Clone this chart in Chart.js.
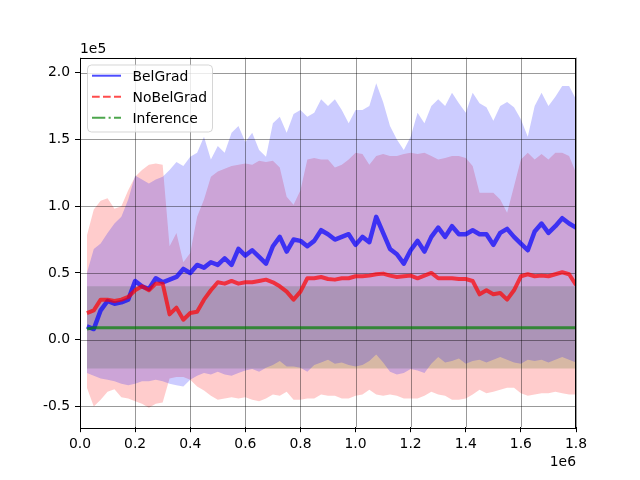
<!DOCTYPE html>
<html>
<head>
<meta charset="utf-8">
<script src="https://cdn.jsdelivr.net/npm/chart.js@4.4.0/dist/chart.umd.min.js"></script>
<style>
    html, body { margin: 0; padding: 0; background: #fff; }
    canvas { display: block; }
</style>
</head>
<body>
<canvas id="chart" width="640" height="480"></canvas>
<script>
// x in units of 1e6 steps, y in units of 1e5 (offset texts drawn on the axes)
const steps = [
    0.025, 0.05, 0.075, 0.1, 0.125, 0.15, 0.175, 0.2, 0.225, 0.25, 0.275, 0.3,
    0.325, 0.35, 0.375, 0.4, 0.425, 0.45, 0.475, 0.5, 0.525, 0.55, 0.575, 0.6,
    0.625, 0.65, 0.675, 0.7, 0.725, 0.75, 0.775, 0.8, 0.825, 0.85, 0.875, 0.9,
    0.925, 0.95, 0.975, 1.0, 1.025, 1.05, 1.075, 1.1, 1.125, 1.15, 1.175, 1.2,
    1.225, 1.25, 1.275, 1.3, 1.325, 1.35, 1.375, 1.4, 1.425, 1.45, 1.475, 1.5,
    1.525, 1.55, 1.575, 1.6, 1.625, 1.65, 1.675, 1.7, 1.725, 1.75, 1.775, 1.8
];

const belGradMean = [
    0.10, 0.08, 0.22, 0.29, 0.27, 0.28, 0.30, 0.44, 0.40, 0.38, 0.46, 0.43,
    0.45, 0.47, 0.53, 0.50, 0.56, 0.54, 0.58, 0.56, 0.61, 0.56, 0.68, 0.63,
    0.67, 0.62, 0.57, 0.70, 0.77, 0.66, 0.75, 0.74, 0.70, 0.74, 0.82, 0.79,
    0.75, 0.77, 0.79, 0.71, 0.77, 0.73, 0.92, 0.80, 0.68, 0.64, 0.57, 0.67,
    0.74, 0.66, 0.77, 0.84, 0.77, 0.85, 0.79, 0.79, 0.82, 0.79, 0.79, 0.71,
    0.80, 0.83, 0.77, 0.72, 0.67, 0.81, 0.87, 0.80, 0.85, 0.91, 0.87, 0.84
];
const belGradHi = [
    0.50, 0.68, 0.72, 0.80, 0.87, 0.92, 1.05, 1.23, 1.20, 1.17, 1.20, 1.22,
    1.27, 1.33, 1.30, 1.37, 1.40, 1.52, 1.35, 1.45, 1.40, 1.55, 1.60, 1.48,
    1.55, 1.42, 1.37, 1.62, 1.67, 1.55, 1.69, 1.72, 1.67, 1.70, 1.80, 1.75,
    1.80, 1.72, 1.62, 1.72, 1.72, 1.75, 1.92, 1.78, 1.60, 1.50, 1.42, 1.52,
    1.70, 1.62, 1.75, 1.80, 1.75, 1.85, 1.77, 1.70, 1.85, 1.77, 1.74, 1.64,
    1.75, 1.78, 1.74, 1.65, 1.52, 1.75, 1.85, 1.75, 1.82, 1.90, 1.90, 1.80
];
const belGradLo = [
    -0.25, -0.27, -0.29, -0.30, -0.31, -0.33, -0.34, -0.33, -0.31, -0.31, -0.30, -0.31,
    -0.33, -0.34, -0.35, -0.30, -0.27, -0.25, -0.26, -0.24, -0.26, -0.27, -0.25, -0.23,
    -0.22, -0.24, -0.21, -0.19, -0.16, -0.20, -0.20, -0.21, -0.24, -0.19, -0.17, -0.15,
    -0.18, -0.17, -0.19, -0.20, -0.19, -0.16, -0.11, -0.17, -0.24, -0.26, -0.25, -0.22,
    -0.23, -0.25, -0.18, -0.13, -0.17, -0.16, -0.14, -0.18, -0.16, -0.15, -0.17, -0.15,
    -0.13, -0.15, -0.17, -0.18, -0.15, -0.16, -0.15, -0.17, -0.15, -0.13, -0.15, -0.17
];

const noBelGradMean = [
    0.20, 0.22, 0.30, 0.30, 0.29, 0.30, 0.32, 0.37, 0.40, 0.37, 0.42, 0.42,
    0.19, 0.24, 0.15, 0.20, 0.21, 0.30, 0.37, 0.43, 0.42, 0.44, 0.42, 0.43,
    0.43, 0.44, 0.45, 0.43, 0.40, 0.36, 0.30, 0.36, 0.46, 0.46, 0.47, 0.455,
    0.45, 0.46, 0.46, 0.475, 0.475, 0.48, 0.49, 0.495, 0.48, 0.47, 0.475, 0.48,
    0.46, 0.48, 0.50, 0.46, 0.46, 0.46, 0.455, 0.455, 0.44, 0.34, 0.37, 0.34,
    0.35, 0.30, 0.37, 0.475, 0.49, 0.475, 0.48, 0.475, 0.49, 0.505, 0.49, 0.41
];
const noBelGradHi = [
    0.78, 0.975, 1.04, 1.06, 0.98, 1.00, 1.12, 1.22, 1.27, 1.31, 1.32, 1.31,
    0.70, 0.80, 0.58, 0.65, 0.92, 1.05, 1.22, 1.26, 1.28, 1.30, 1.31, 1.32,
    1.31, 1.34, 1.33, 1.34, 1.29, 1.07, 1.01, 1.12, 1.35, 1.36, 1.35, 1.35,
    1.29, 1.31, 1.35, 1.40, 1.39, 1.31, 1.375, 1.39, 1.375, 1.375, 1.39, 1.40,
    1.39, 1.40, 1.375, 1.35, 1.36, 1.375, 1.375, 1.36, 1.30, 1.10, 1.10, 1.10,
    1.05, 0.95, 1.15, 1.35, 1.40, 1.35, 1.39, 1.35, 1.40, 1.40, 1.375, 1.25
];
const noBelGradLo = [
    -0.36, -0.50, -0.45, -0.39, -0.37, -0.43, -0.44, -0.46, -0.48, -0.51, -0.48, -0.47,
    -0.29, -0.28, -0.28, -0.30, -0.35, -0.38, -0.42, -0.45, -0.44, -0.43, -0.44, -0.43,
    -0.45, -0.46, -0.44, -0.41, -0.42, -0.39, -0.45, -0.45, -0.44, -0.44, -0.41, -0.42,
    -0.42, -0.44, -0.44, -0.42, -0.41, -0.375, -0.41, -0.42, -0.41, -0.42, -0.44, -0.44,
    -0.44, -0.42, -0.39, -0.41, -0.42, -0.45, -0.45, -0.44, -0.41, -0.375, -0.40, -0.39,
    -0.375, -0.36, -0.36, -0.40, -0.42, -0.41, -0.40, -0.40, -0.39, -0.40, -0.41, -0.41
];

const inferenceMean = [
    0.08, 0.09, 0.09, 0.09, 0.09, 0.09, 0.09, 0.09, 0.09, 0.09, 0.09, 0.09,
    0.09, 0.09, 0.09, 0.09, 0.09, 0.09, 0.09, 0.09, 0.09, 0.09, 0.09, 0.09,
    0.09, 0.09, 0.09, 0.09, 0.09, 0.09, 0.09, 0.09, 0.09, 0.09, 0.09, 0.09,
    0.09, 0.09, 0.09, 0.09, 0.09, 0.09, 0.09, 0.09, 0.09, 0.09, 0.09, 0.09,
    0.09, 0.09, 0.09, 0.09, 0.09, 0.09, 0.09, 0.09, 0.09, 0.09, 0.09, 0.09,
    0.09, 0.09, 0.09, 0.09, 0.09, 0.09, 0.09, 0.09, 0.09, 0.09, 0.09, 0.09
];
const inferenceHi = [
    0.40, 0.40, 0.40, 0.40, 0.40, 0.40, 0.40, 0.40, 0.40, 0.40, 0.40, 0.40,
    0.40, 0.40, 0.40, 0.40, 0.40, 0.40, 0.40, 0.40, 0.40, 0.40, 0.40, 0.40,
    0.40, 0.40, 0.40, 0.40, 0.40, 0.40, 0.40, 0.40, 0.40, 0.40, 0.40, 0.40,
    0.40, 0.40, 0.40, 0.40, 0.40, 0.40, 0.40, 0.40, 0.40, 0.40, 0.40, 0.40,
    0.40, 0.40, 0.40, 0.40, 0.40, 0.40, 0.40, 0.40, 0.40, 0.40, 0.40, 0.40,
    0.40, 0.40, 0.40, 0.40, 0.40, 0.40, 0.40, 0.40, 0.40, 0.40, 0.40, 0.40
];
const inferenceLo = [
    -0.215, -0.215, -0.215, -0.215, -0.215, -0.215, -0.215, -0.215, -0.215, -0.215, -0.215, -0.215,
    -0.215, -0.215, -0.215, -0.215, -0.215, -0.215, -0.215, -0.215, -0.215, -0.215, -0.215, -0.215,
    -0.215, -0.215, -0.215, -0.215, -0.215, -0.215, -0.215, -0.215, -0.215, -0.215, -0.215, -0.215,
    -0.215, -0.215, -0.215, -0.215, -0.215, -0.215, -0.215, -0.215, -0.215, -0.215, -0.215, -0.215,
    -0.215, -0.215, -0.215, -0.215, -0.215, -0.215, -0.215, -0.215, -0.215, -0.215, -0.215, -0.215,
    -0.215, -0.215, -0.215, -0.215, -0.215, -0.215, -0.215, -0.215, -0.215, -0.215, -0.215, -0.215
];

const xTicks = [0.0, 0.2, 0.4, 0.6, 0.8, 1.0, 1.2, 1.4, 1.6, 1.8];
const yTicks = [-0.5, 0.0, 0.5, 1.0, 1.5, 2.0];
const seriesNames = ['BelGrad', 'NoBelGrad', 'Inference'];

const FONT = 'DejaVu Sans';
const FONT_SIZE = 13.9;

function toPoints(values) {
    return values.map((y, i) => ({ x: steps[i], y: y }));
}

function band(values, color, fillTarget) {
    return {
        data: toPoints(values),
        borderWidth: 0,
        borderColor: 'transparent',
        backgroundColor: color,
        pointRadius: 0,
        fill: fillTarget,
        order: 5
    };
}

function meanLine(label, values, color, width, order) {
    return {
        label: label,
        data: toPoints(values),
        borderColor: color,
        borderWidth: width,
        borderJoinStyle: 'round',
        pointRadius: 0,
        fill: false,
        order: order
    };
}

// matplotlib-like decorations: grid above fills, spines, offset texts, legend
const mplDecor = {
    id: 'mplDecor',
    beforeDatasetsDraw(chart) {
        const { ctx, chartArea: a, scales } = chart;
        ctx.save();
        ctx.strokeStyle = 'rgba(0, 0, 0, 0.4)';
        ctx.lineWidth = 1;
        xTicks.forEach(v => {
            const px = Math.round(scales.x.getPixelForValue(v)) + 0.5;
            ctx.beginPath();
            ctx.moveTo(px, a.top);
            ctx.lineTo(px, a.bottom);
            ctx.stroke();
        });
        yTicks.forEach(v => {
            const py = Math.round(scales.y.getPixelForValue(v)) + 0.5;
            ctx.beginPath();
            ctx.moveTo(a.left, py);
            ctx.lineTo(a.right, py);
            ctx.stroke();
        });
        ctx.restore();
    },
    afterDraw(chart) {
        const { ctx, chartArea: a } = chart;
        ctx.save();

        // spines
        ctx.strokeStyle = '#000';
        ctx.lineWidth = 1;
        ctx.strokeRect(Math.round(a.left) + 0.5, Math.round(a.top) + 0.5,
            Math.round(a.right - a.left) - 1, Math.round(a.bottom - a.top));

        // offset texts
        ctx.fillStyle = '#000';
        ctx.font = `${FONT_SIZE}px "${FONT}"`;
        ctx.textBaseline = 'alphabetic';
        ctx.textAlign = 'left';
        ctx.fillText('1e5', a.left, a.top - 5);
        ctx.textAlign = 'right';
        ctx.fillText('1e6', a.right, 466);

        // legend
        const bx = 87.5, by = 65, bw = 125, bh = 67, r = 4;
        ctx.beginPath();
        ctx.moveTo(bx + r, by);
        ctx.lineTo(bx + bw - r, by);
        ctx.arcTo(bx + bw, by, bx + bw, by + r, r);
        ctx.lineTo(bx + bw, by + bh - r);
        ctx.arcTo(bx + bw, by + bh, bx + bw - r, by + bh, r);
        ctx.lineTo(bx + r, by + bh);
        ctx.arcTo(bx, by + bh, bx, by + bh - r, r);
        ctx.lineTo(bx, by + r);
        ctx.arcTo(bx, by, bx + r, by, r);
        ctx.closePath();
        ctx.fillStyle = 'rgba(255, 255, 255, 0.8)';
        ctx.fill();
        ctx.strokeStyle = 'rgba(204, 204, 204, 0.8)';
        ctx.stroke();

        const handles = [
            { color: 'rgba(0, 0, 255, 0.7)', dash: [] },
            { color: 'rgba(255, 0, 0, 0.7)', dash: [7.7, 3.3] },
            { color: 'rgba(0, 128, 0, 0.7)', dash: [13.3, 3.3, 2.1, 3.3] }
        ];
        const rows = [75.7, 96.7, 117.7];
        handles.forEach((h, i) => {
            ctx.beginPath();
            ctx.setLineDash(h.dash);
            ctx.strokeStyle = h.color;
            ctx.lineWidth = 2;
            ctx.moveTo(92, rows[i]);
            ctx.lineTo(121, rows[i]);
            ctx.stroke();
            ctx.setLineDash([]);
            ctx.fillStyle = '#000';
            ctx.textAlign = 'left';
            ctx.textBaseline = 'alphabetic';
            ctx.fillText(seriesNames[i], 132.5, rows[i] + 5);
        });
        ctx.restore();
    }
};

Chart.defaults.font.family = FONT;
Chart.defaults.font.size = FONT_SIZE;
Chart.defaults.color = '#000';

new Chart(document.getElementById('chart'), {
    type: 'line',
    data: {
        datasets: [
            band(belGradHi, 'rgba(0, 0, 255, 0.2)', '+1'),
            band(belGradLo, 'rgba(0, 0, 255, 0)', false),
            band(noBelGradHi, 'rgba(255, 0, 0, 0.2)', '+1'),
            band(noBelGradLo, 'rgba(255, 0, 0, 0)', false),
            band(inferenceHi, 'rgba(0, 128, 0, 0.2)', '+1'),
            band(inferenceLo, 'rgba(0, 128, 0, 0)', false),
            meanLine(seriesNames[0], belGradMean, 'rgba(0, 0, 255, 0.7)', 4.5, 3),
            meanLine(seriesNames[1], noBelGradMean, 'rgba(255, 0, 0, 0.7)', 4, 2),
            meanLine(seriesNames[2], inferenceMean, 'rgba(0, 128, 0, 0.7)', 3, 1)
        ]
    },
    options: {
        responsive: false,
        animation: false,
        layout: { padding: { left: 0, top: 57.6, right: 64, bottom: 0 } },
        plugins: {
            legend: { display: false },
            tooltip: { enabled: false },
            filler: { drawTime: 'beforeDatasetsDraw' }
        },
        scales: {
            x: {
                type: 'linear',
                min: 0,
                max: 1.8,
                afterBuildTicks: scale => { scale.ticks = xTicks.map(v => ({ value: v })); },
                afterFit: scale => { scale.height = 52.8; },
                ticks: {
                    padding: 4,
                    maxRotation: 0,
                    autoSkip: false,
                    callback: v => v.toFixed(1)
                },
                grid: { drawOnChartArea: false, drawTicks: true, tickLength: 5, tickColor: '#000' },
                border: { display: false }
            },
            y: {
                type: 'linear',
                min: -0.655,
                max: 2.1125,
                afterBuildTicks: scale => { scale.ticks = yTicks.map(v => ({ value: v })); },
                afterFit: scale => { scale.width = 80; },
                ticks: {
                    padding: 5,
                    autoSkip: false,
                    callback: v => v.toFixed(1)
                },
                grid: { drawOnChartArea: false, drawTicks: true, tickLength: 5, tickColor: '#000' },
                border: { display: false }
            }
        }
    },
    plugins: [mplDecor]
});
</script>
</body>
</html>
